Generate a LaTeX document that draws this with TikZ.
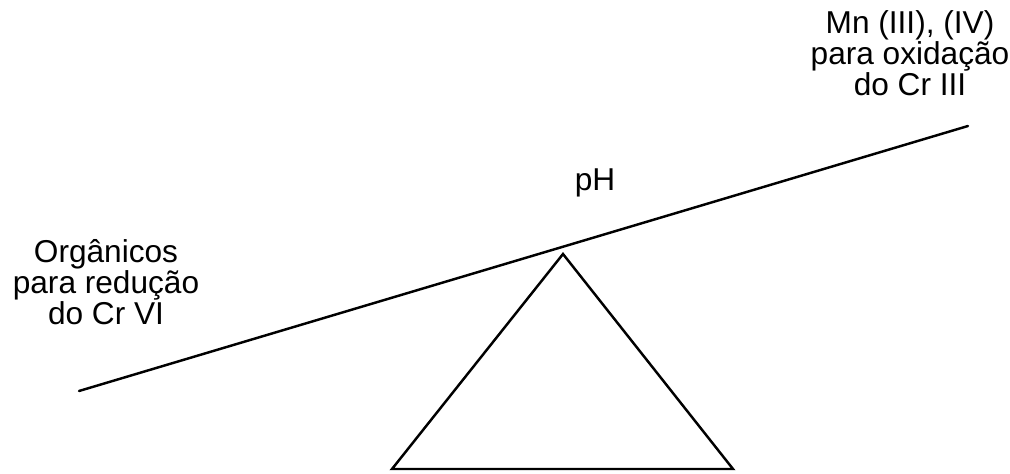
\documentclass[tikz,border=0pt]{standalone}
\usepackage{fontspec}
\setmainfont{Liberation Sans}
\usetikzlibrary{positioning}

\begin{document}
\begin{tikzpicture}[
    x=0.02cm, y=-0.02cm,
    lbl/.style={align=center, inner sep=0pt, anchor=base,
                font=\fontsize{18}{17.6}\selectfont},
    beam/.style={line width=1.4pt, line cap=round},
    pivot/.style={line width=1.4pt, line join=miter}
  ]
    \useasboundingbox (0,0) rectangle (1010,473);
    \coordinate (left) at (79,391);
    \coordinate (right) at (968,126);
    \coordinate (apex) at (563,254);
    \coordinate (bl) at (392,469);
    \coordinate (br) at (733,469);
    % last line baselines
    \node[lbl] (org) at (106,324) {Orgânicos\\para redução\\do Cr VI};
    \node[lbl] (mn) at (910,95) {Mn (III), (IV)\\para oxidação\\do Cr III};
    \node[lbl] (ph) at (595,190) {pH};
    \draw[beam] (left) -- (right);
    \draw[pivot] (apex) -- (br) -- (bl) -- cycle;
  \end{tikzpicture}
\end{document}
